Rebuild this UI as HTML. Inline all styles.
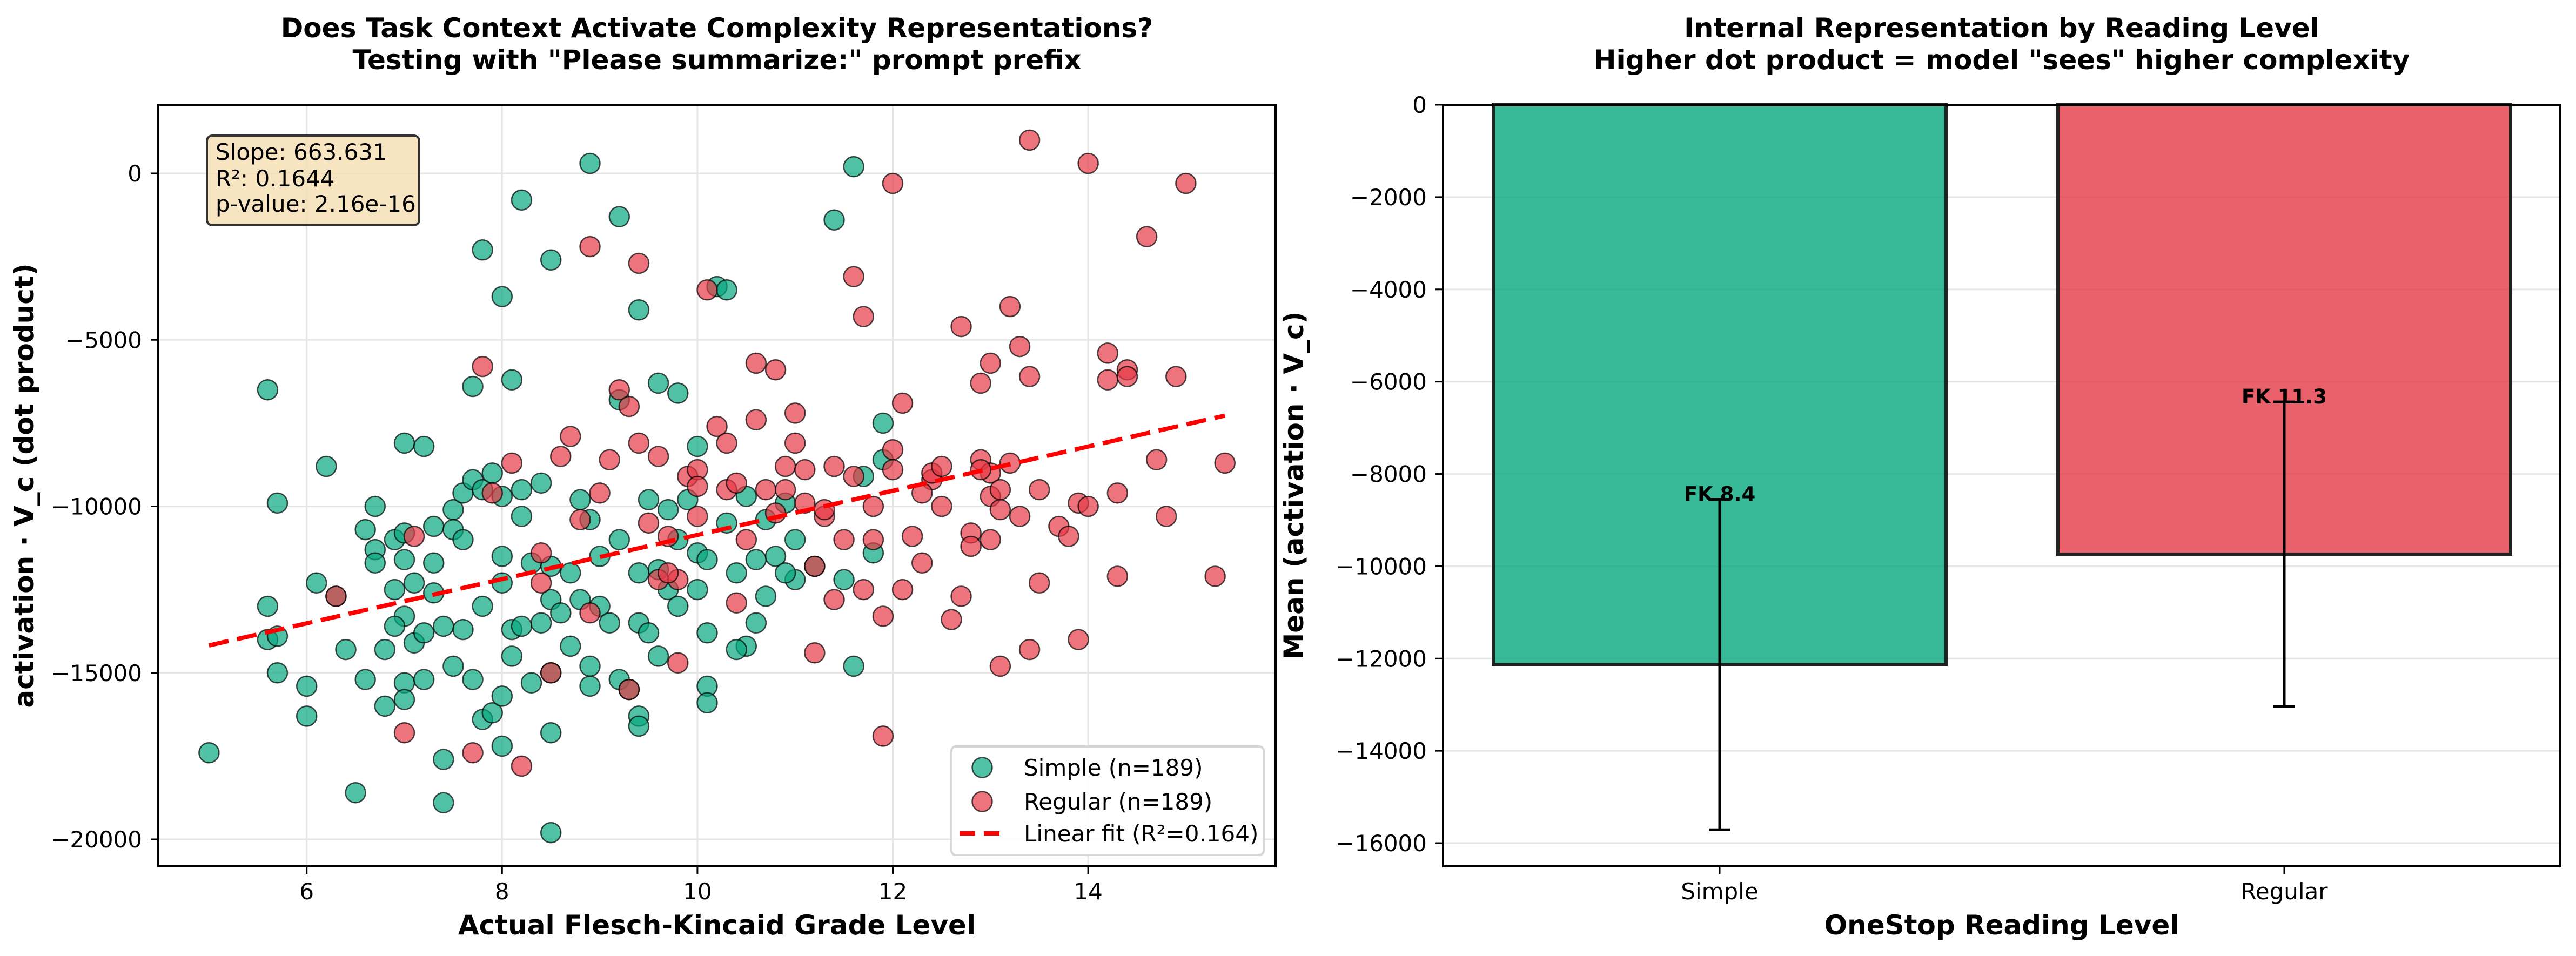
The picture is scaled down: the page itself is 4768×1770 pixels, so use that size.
<!DOCTYPE html>
<html><head><meta charset="utf-8"><style>
html,body{margin:0;padding:0;background:#fff}
svg{display:block}
text{font-family:"DejaVu Sans","Liberation Sans",sans-serif;fill:#000}
</style></head><body>
<svg id="fig" width="4768" height="1770" viewBox="0 0 4768 1770" xmlns="http://www.w3.org/2000/svg">
<rect width="4768" height="1770" fill="#fff"/>
<g id="left"></g>
<g id="right"></g>
</svg>
<script>
// ---- Scatter data ----
const simpleX = [5.0,5.6,5.6,5.6,5.7,5.7,5.7,6.0,6.0,6.1,6.2,6.3,6.4,6.5,6.6,6.6,6.7,6.7,6.7,6.8,6.8,6.9,6.9,7.0,7.0,7.0,7.0,7.0,7.0,7.1,7.2,7.2,7.2,7.3,7.3,7.3,7.4,7.4,7.4,7.5,7.5,7.5,7.6,7.6,7.6,7.7,7.7,7.7,7.8,7.8,7.8,7.8,7.9,7.9,8.0,8.0,8.0,8.0,8.0,8.0,8.1,8.1,8.1,8.2,8.2,8.2,8.2,8.3,8.4,8.4,8.5,8.5,8.5,8.5,8.5,8.5,8.6,8.7,8.7,8.8,8.8,8.9,8.9,8.9,8.9,9.0,9.0,9.1,9.2,9.2,9.2,9.2,9.3,9.4,9.4,9.4,9.4,9.4,9.5,9.5,9.6,9.6,9.7,9.7,9.8,9.8,9.9,10.0,10.0,10.0,10.1,10.1,10.1,10.1,10.2,10.3,10.3,10.4,10.5,10.6,10.6,10.7,10.8,10.9,11.0,11.2,11.4,11.5,11.6,11.6,11.7,11.8,11.9,11.9,10.5,9.8,8.3,7.1,6.9,10.9,9.6,10.4,11.0,10.7];
const simpleY = [-17400,-6500,-13000,-14000,-13900,-15000,-9900,-15400,-16300,-12300,-8800,-12700,-14300,-18600,-15200,-10700,-11300,-11700,-10000,-16000,-14300,-11000,-12500,-8100,-10800,-11600,-13300,-15300,-15800,-14100,-8200,-13800,-15200,-10600,-11700,-12600,-13600,-17600,-18900,-10100,-10700,-14800,-13700,-11000,-9600,-6400,-9200,-15200,-2300,-9500,-13000,-16400,-9000,-16200,-3700,-9700,-11500,-15700,-17200,-12300,-6200,-14500,-13700,-800,-9500,-10300,-13600,-11700,-9300,-13500,-2600,-11800,-12800,-15000,-16800,-19800,-13200,-12000,-14200,-9800,-12800,300,-10400,-14800,-15400,-11500,-13000,-13500,-1300,-6800,-11000,-15200,-15500,-4100,-12000,-13500,-16300,-16600,-9800,-13800,-6300,-11900,-10100,-12500,-6600,-11000,-9800,-8200,-11400,-12500,-11600,-15400,-15900,-13800,-3400,-3500,-10500,-12000,-9700,-11600,-13500,-10400,-11500,-9900,-12200,-11800,-1400,-12200,200,-14800,-9100,-11400,-8600,-7500,-14200,-13000,-15300,-12300,-13600,-12000,-14500,-14300,-11000,-12700];
const regularX = [6.3,7.0,7.1,7.7,7.8,7.9,8.2,8.1,8.4,8.4,8.5,8.6,8.7,8.8,8.9,8.9,9.0,9.1,9.2,9.3,9.3,9.4,9.4,9.5,9.6,9.6,9.7,9.8,9.8,9.9,10.0,10.0,10.0,10.1,10.2,10.3,10.3,10.4,10.5,10.6,10.6,10.7,10.8,10.9,10.9,11.0,11.0,11.1,11.2,11.2,11.3,11.4,11.4,11.5,11.6,11.6,11.7,11.7,11.8,11.9,11.9,12.0,12.0,12.1,12.1,12.2,12.3,12.4,12.5,12.6,12.7,12.7,12.8,12.8,12.9,12.9,13.0,13.0,13.0,13.0,13.1,13.1,13.2,13.2,13.3,13.3,13.4,13.4,13.4,13.5,13.5,13.7,13.8,13.9,13.9,14.0,14.0,14.2,14.2,14.3,14.3,14.4,14.6,14.7,14.8,14.9,15.0,15.3,15.4,12.4,11.1,12.0,11.3,10.8,12.5,13.1,14.4,12.9,9.7,10.4,11.8,12.3];
const regularY = [-12700,-16800,-10900,-17400,-5800,-9600,-17800,-8700,-11400,-12300,-15000,-8500,-7900,-10400,-2200,-13200,-9600,-8600,-6500,-7000,-15500,-2700,-8100,-10500,-8500,-12200,-10900,-14700,-12200,-9100,-8900,-9400,-10300,-3500,-7600,-8100,-9500,-9300,-11000,-5700,-7400,-9500,-5900,-8800,-9500,-7200,-8100,-9900,-11800,-14400,-10300,-8800,-12800,-11000,-3100,-9100,-4300,-12500,-10000,-16900,-13300,-8300,-300,-6900,-12500,-10900,-11700,-9200,-10000,-13400,-4600,-12700,-10800,-11200,-6300,-8600,-5700,-9000,-9700,-11000,-10100,-14800,-4000,-8700,-5200,-10300,1000,-6100,-14300,-9500,-12300,-10600,-10900,-9900,-14000,300,-10000,-5400,-6200,-9600,-12100,-5900,-1900,-8600,-10300,-6100,-300,-12100,-8700,-9000,-8900,-8900,-10100,-10200,-8800,-9500,-6100,-8900,-12000,-12900,-11000,-9600];
const fitSlope = 663.631;
const fitIntercept = -17495;
const fitRange = [5.0, 15.4];
const xTicks = [6,8,10,12,14];
const yTicksL = [0,-5000,-10000,-15000,-20000];
// ---- Bar data ----
const barCats = ["Simple","Regular"];
const barMeans = [-12130,-9739];
const barErr = [3580,3300];
const barLabels = ["FK 8.4","FK 11.3"];
const yTicksR = [0,-2000,-4000,-6000,-8000,-10000,-12000,-14000,-16000];

const NS="http://www.w3.org/2000/svg";
function mk(parent,tag,attrs,txt){const e=document.createElementNS(NS,tag);for(const k in attrs)e.setAttribute(k,attrs[k]);if(txt!==undefined)e.textContent=txt;parent.appendChild(e);return e;}
function fmt(v){return v<0?"\u2212"+Math.abs(v):String(v);}

// ---------- LEFT ----------
const L=document.getElementById('left');
const lx0=293,lx1=2361,ly0=194,ly1=1604;
const sx=v=>567.7+(v-6)*180.8;
const sy=v=>321-v*0.06165;
for(const t of xTicks){const g=mk(L,'line',{x1:sx(t),x2:sx(t),y1:ly0,y2:ly1,stroke:'#e6e6e6','stroke-width':3});
}
for(const t of yTicksL){const g=mk(L,'line',{x1:lx0,x2:lx1,y1:sy(t),y2:sy(t),stroke:'#e6e6e6','stroke-width':3});
}
function scatter(xs,ys,col,name){const g=mk(L,'g',{});
for(let i=0;i<xs.length;i++){const c=mk(g,'circle',{cx:sx(xs[i]),cy:sy(ys[i]),r:18.5,fill:col,'fill-opacity':0.7,stroke:'#000','stroke-opacity':0.7,'stroke-width':2.5});
}}
scatter(simpleX,simpleY,'#06A77D','simple-points');
scatter(regularX,regularY,'#E63946','regular-points');
const fl=mk(L,'line',{x1:sx(fitRange[0]),y1:sy(fitSlope*fitRange[0]+fitIntercept),x2:sx(fitRange[1]),y2:sy(fitSlope*fitRange[1]+fitIntercept),stroke:'#ff0000','stroke-width':8,'stroke-dasharray':'37 16'});

const lf=mk(L,'rect',{x:lx0,y:ly0,width:lx1-lx0,height:ly1-ly0,fill:'none',stroke:'#000','stroke-width':4});

for(const t of xTicks){mk(L,'line',{x1:sx(t),x2:sx(t),y1:ly1,y2:ly1+14,stroke:'#000','stroke-width':3});
const tx=mk(L,'text',{x:sx(t),y:1665,'font-size':42,'text-anchor':'middle'},String(t));
}
for(const t of yTicksL){mk(L,'line',{x1:lx0-14,x2:lx0,y1:sy(t),y2:sy(t),stroke:'#000','stroke-width':3});
const tx=mk(L,'text',{x:263,y:sy(t)+15,'font-size':42,'text-anchor':'end'},fmt(t));
}
</script>
<script>
(function(){
const L=document.getElementById('left');
L.insertAdjacentHTML('beforeend',`
<text x="1327" y="69" font-size="50" font-weight="bold" text-anchor="middle">Does Task Context Activate Complexity Representations?</text>
<text x="1327" y="128" font-size="50" font-weight="bold" text-anchor="middle">Testing with "Please summarize:" prompt prefix</text>
<text x="1327" y="1730" font-size="50" font-weight="bold" text-anchor="middle">Actual Flesch-Kincaid Grade Level</text>
<text transform="translate(62,899) rotate(-90)" font-size="50" font-weight="bold" text-anchor="middle">activation · V_c (dot product)</text>
<g>
<rect x="383" y="251" width="393" height="166" rx="10" fill="#f5deb3" fill-opacity="0.8" stroke="#333" stroke-width="4"/>
<text x="399" y="296" font-size="42">Slope: 663.631</text>
<text x="399" y="345" font-size="42">R²: 0.1644</text>
<text x="399" y="392" font-size="42">p-value: 2.16e-16</text>
</g>
<g>
<rect x="1761" y="1382" width="578" height="201" rx="8" fill="#fff" fill-opacity="0.85" stroke="#d6d6d6" stroke-width="4"/>
<circle cx="1818" cy="1421" r="18.5" fill="#06A77D" fill-opacity="0.7" stroke="#000" stroke-opacity="0.7" stroke-width="2.5"/>
<text x="1895" y="1436" font-size="42">Simple (n=189)</text>
<circle cx="1818" cy="1484" r="18.5" fill="#E63946" fill-opacity="0.7" stroke="#000" stroke-opacity="0.7" stroke-width="2.5"/>
<text x="1895" y="1499" font-size="42">Regular (n=189)</text>
<line x1="1776" x2="1851" y1="1543" y2="1543" stroke="#ff0000" stroke-width="8" stroke-dasharray="29 16"/>
<text x="1895" y="1558" font-size="42">Linear fit (R²=0.164)</text>
</g>`);
})();
</script>
<script>
(function(){
const R=document.getElementById('right');
const rx0=2671,rx1=4739,ry0=194,ry1=1604;
const bx=i=>3183+i*1045;
const by=v=>194-v*0.08544;
const bw=838;
for(const t of yTicksR){const g=mk(R,'line',{x1:rx0,x2:rx1,y1:by(t),y2:by(t),stroke:'#e6e6e6','stroke-width':3});
}
const cols=['#06A77D','#E63946'];
for(let i=0;i<barCats.length;i++){
const b=mk(R,'rect',{x:bx(i)-bw/2,y:by(0),width:bw,height:by(barMeans[i])-by(0),fill:cols[i],'fill-opacity':0.8,stroke:'#222','stroke-width':6});

const top=barMeans[i]+barErr[i],bot=barMeans[i]-barErr[i];
const e=mk(R,'g',{stroke:'#000','stroke-width':5});

mk(e,'line',{x1:bx(i),x2:bx(i),y1:by(top),y2:by(bot)});
mk(e,'line',{x1:bx(i)-20,x2:bx(i)+20,y1:by(top),y2:by(top)});
mk(e,'line',{x1:bx(i)-20,x2:bx(i)+20,y1:by(bot),y2:by(bot)});
const l=mk(R,'text',{x:bx(i),y:by(top)+3,'font-size':37,'font-weight':'bold','text-anchor':'middle'},barLabels[i]);

mk(R,'line',{x1:bx(i),x2:bx(i),y1:ry1,y2:ry1+14,stroke:'#000','stroke-width':3});
const tl=mk(R,'text',{x:bx(i),y:1665,'font-size':42,'text-anchor':'middle'},barCats[i]);

}
const f=mk(R,'rect',{x:rx0,y:ry0,width:rx1-rx0,height:ry1-ry0,fill:'none',stroke:'#000','stroke-width':4});

for(const t of yTicksR){mk(R,'line',{x1:rx0-14,x2:rx0,y1:by(t),y2:by(t),stroke:'#000','stroke-width':3});
const tx=mk(R,'text',{x:rx0-30,y:by(t)+15,'font-size':42,'text-anchor':'end'},fmt(t));
}
R.insertAdjacentHTML('beforeend',`
<text x="3705" y="69" font-size="50" font-weight="bold" text-anchor="middle">Internal Representation by Reading Level</text>
<text x="3705" y="128" font-size="50" font-weight="bold" text-anchor="middle">Higher dot product = model "sees" higher complexity</text>
<text x="3705" y="1730" font-size="50" font-weight="bold" text-anchor="middle">OneStop Reading Level</text>
<text transform="translate(2412,899) rotate(-90)" font-size="50" font-weight="bold" text-anchor="middle">Mean (activation · V_c)</text>`);
})();
</script>
</body></html>
